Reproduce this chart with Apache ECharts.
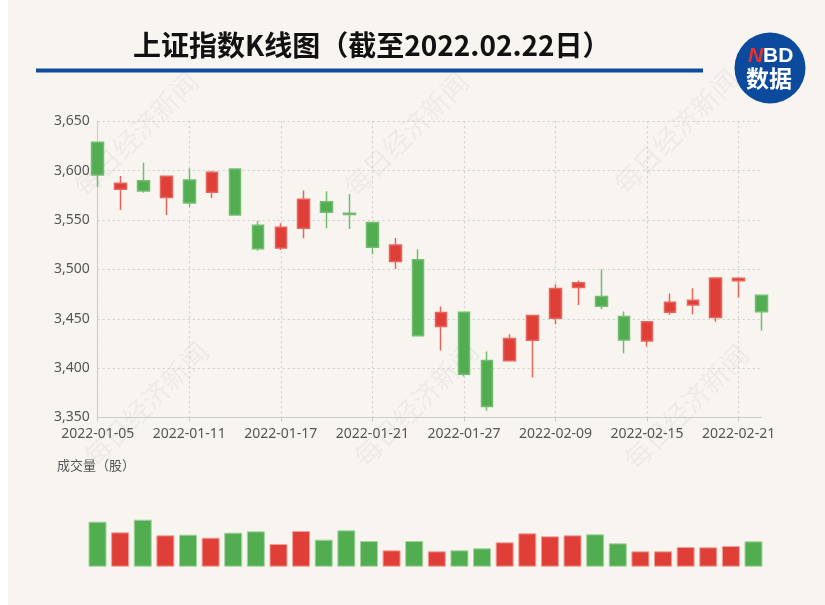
<!DOCTYPE html>
<html>
<head>
<meta charset="utf-8">
<script src="https://cdn.jsdelivr.net/npm/echarts@6/dist/echarts.min.js"></script>
<style>html,body{margin:0;padding:0;background:#f8f5f1;}#c{width:825px;height:605px;}</style>
</head>
<body>
<div id="c"></div>
<script>
// ---- data ----
var dates = ['2022-01-05','2022-01-06','2022-01-07','2022-01-10','2022-01-11','2022-01-12','2022-01-13','2022-01-14',
  '2022-01-17','2022-01-18','2022-01-19','2022-01-20','2022-01-21','2022-01-24','2022-01-25','2022-01-26',
  '2022-01-27','2022-01-28','2022-02-07','2022-02-08','2022-02-09','2022-02-10','2022-02-11','2022-02-14',
  '2022-02-15','2022-02-16','2022-02-17','2022-02-18','2022-02-21','2022-02-22'];
var opens  = [3628.7,3581.1,3589.9,3572.7,3590.6,3578.1,3601.7,3544.7,3521.8,3541.7,3568.6,3556.8,3547.4,3507.9,3509.9,3442.1,
  3456.7,3407.7,3407.4,3428.3,3450.6,3481.6,3472.5,3452.2,3427.6,3456.7,3464.0,3451.2,3488.4,3473.9];
var closes = [3595.6,3587.2,3579.5,3594.3,3567.3,3598.4,3555.2,3521.0,3542.7,3571.0,3557.9,3555.6,3522.5,3524.8,3432.7,3456.3,
  3393.9,3361.1,3430.0,3453.2,3480.6,3486.4,3462.8,3428.6,3446.9,3466.8,3468.8,3491.4,3491.1,3457.0];
var lows   = [3583.8,3560.2,3577.7,3555.2,3563.3,3572.4,3555.0,3519.0,3519.7,3531.6,3541.7,3541.0,3515.4,3500.5,3432.0,3417.8,
  3391.5,3356.8,3407.0,3390.5,3444.5,3464.0,3459.7,3415.2,3421.9,3453.9,3454.7,3446.9,3471.5,3437.8];
var highs  = [3629.5,3594.6,3608.1,3595.0,3602.4,3600.0,3602.0,3549.0,3546.8,3579.8,3579.1,3576.4,3548.0,3531.9,3520.4,3462.4,
  3457.2,3416.8,3434.4,3454.0,3485.0,3488.7,3500.2,3457.3,3447.5,3475.5,3481.0,3492.0,3492.0,3474.5];
// volume (亿股, estimated)
var volumes = [450,344,470,314,320,290,340,354,227,357,270,364,257,164,257,154,164,184,244,334,304,314,324,234,154,154,197,194,207,254];
var yTicks = [3350,3400,3450,3500,3550,3600,3650];

var RED = '#df3f37', GREEN = '#52ad51';
var kData = dates.map(function(d,i){ return [opens[i], closes[i], lows[i], highs[i]]; });
var volData = volumes.map(function(v,i){
  var up = closes[i] >= opens[i];
  return {value: v, itemStyle: {color: up ? RED : GREEN, borderColor: up ? '#f1a19c' : '#a3d3a1'}};
});
function fmt(v){ return String(v).replace(/\B(?=(\d{3})+(?!\d))/g, ','); }

var wm = [];
[[136,134],[406,134],[676,131],[146,404],[416,404],[686,407]].forEach(function(p){
  wm.push({type:'text', x:p[0], y:p[1], rotation: Math.PI/4, z: 0, silent:true,
    style:{text:'每日经济新闻', fontSize:27, fontFamily:'Noto Sans CJK SC', fill:'rgba(110,110,110,0.075)', align:'center', verticalAlign:'middle'}});
});

var chart = echarts.init(document.getElementById('c'));
chart.setOption({
  backgroundColor: '#f8f5f1',
  animation: false,
  title: {
    text: '上证指数K线图（截至2022.02.22日）', left: 128, top: 26,
    textStyle: {fontSize: 28, fontWeight: 'bold', color: '#111', fontFamily: 'Noto Sans CJK SC'}
  },
  graphic: wm.concat([
    {type:'rect', shape:{x:0,y:0,width:8,height:605}, style:{fill:'#ffffff'}, z: 0},
    {type:'rect', shape:{x:36,y:68.5,width:667,height:4}, style:{fill:'#0e4c9f'}, z: 1},
    {type:'circle', shape:{cx:770, cy:68, r:35.5}, style:{fill:'#0b4a9c'}, z: 1},
    {type:'text', x:748, y:56, z: 2, style:{text:'N', fontSize:21, fontWeight:'bold', fontStyle:'italic', fontFamily:'Liberation Sans', fill:'#e8302c', align:'left', verticalAlign:'middle'}},
    {type:'text', x:763, y:56, z: 2, style:{text:'BD', fontSize:21, fontWeight:'bold', fontFamily:'Liberation Sans', fill:'#ffffff', align:'left', verticalAlign:'middle'}},
    {type:'text', x:769, y:78, z: 2, style:{text:'数据', fontSize:23, fontWeight:'bold', fontFamily:'Noto Sans CJK SC', fill:'#ffffff', align:'center', verticalAlign:'middle'}},
    {type:'text', x:57, y:465, z: 2, style:{text:'成交量（股）', fontSize:13, fontFamily:'Noto Sans CJK SC', fill:'#555555', align:'left', verticalAlign:'middle'}}
  ]),
  grid: [
    {left: 97.7, right: 63.5, top: 121.3, bottom: 187.5},
    {left: 86.2, right: 60.2, top: 506.7, bottom: 38.3}
  ],
  xAxis: [
    {type:'category', data: dates, gridIndex:0, boundaryGap:false,
     axisLine:{show:true, lineStyle:{color:'#cccccc'}},
     axisTick:{show:true, interval:3, length:4, lineStyle:{color:'#cccccc'}},
     axisLabel:{interval:3, fontSize:14, color:'#555555', margin:10, fontFamily:'Noto Sans'},
     splitLine:{show:true, interval:3, lineStyle:{color:'#cdcdcd', type:[2,3], width:1.2}}},
    {type:'category', data: dates, gridIndex:1, boundaryGap:true, show:false}
  ],
  yAxis: [
    {type:'value', gridIndex:0, min:3350, max:3650, interval:50, scale:true,
     axisLine:{show:true, lineStyle:{color:'#cccccc'}},
     axisTick:{show:false},
     axisLabel:{fontSize:14, color:'#555555', margin:8, fontFamily:'Noto Sans', formatter: function(v){ return fmt(v); }},
     splitLine:{show:true, lineStyle:{color:'#cdcdcd', type:[2,3], width:1.2}}},
    {type:'value', gridIndex:1, min:0, max:600, show:false, splitLine:{show:false}}
  ],
  series: [
    {type:'candlestick', xAxisIndex:0, yAxisIndex:0, data:kData, barWidth:12,
     itemStyle:{color:RED, color0:GREEN, borderColor:'#e8655e', borderColor0:'#72bd70', borderWidth:1.5}},
    {type:'bar', xAxisIndex:1, yAxisIndex:1, data:volData, barWidth:18, itemStyle:{borderWidth:1}}
  ]
});
</script>
</body>
</html>
